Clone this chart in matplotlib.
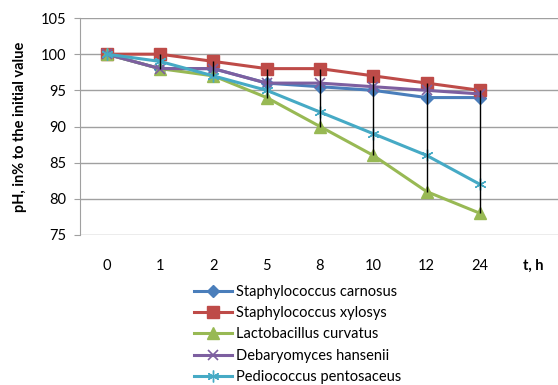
import numpy as np
import matplotlib
matplotlib.use("Agg")
import matplotlib.pyplot as plt

plt.rcParams['font.family'] = ['Lato', 'DejaVu Sans']

hours = ["0", "1", "2", "5", "8", "10", "12", "24"]
carnosus = [100, 98, 98, 96, 95.5, 95, 94, 94]
xylosus = [100, 100, 99, 98, 98, 97, 96, 95]
curvatus = [100, 98, 97, 94, 90, 86, 81, 78]
hansenii = [100, 98, 98, 96, 96, 95.5, 95, 94.5]
pentosaceus = [100, 99, 97, 95, 92, 89, 86, 82]

fig = plt.figure(figsize=(5.58, 3.85), dpi=100)
ax = fig.add_axes([80/558, 1-235/385, 480/558, 217/385])

x = np.arange(len(hours))
allv = np.array([carnosus, xylosus, curvatus, hansenii, pentosaceus])
# high-low lines
ax.vlines(x, allv.min(axis=0), allv.max(axis=0), color="black", lw=1, zorder=4)

ax.plot(x, carnosus, color="#4A7EBB", lw=2.2, marker="D", ms=6, label="Staphylococcus carnosus", zorder=3)
ax.plot(x, xylosus, color="#BE4B48", lw=2.2, marker="s", ms=8, label="Staphylococcus xylosys", zorder=3)
ax.plot(x, curvatus, color="#98B954", lw=2.2, marker="^", ms=8.5, label="Lactobacillus curvatus", zorder=3)
ax.plot(x, hansenii, color="#7D5FA0", lw=2.2, marker="x", ms=7.5, mew=1.2, label="Debaryomyces hansenii", zorder=3)
ax.plot(x, pentosaceus, color="#46AAC5", lw=2.2, marker=(6, 2, 0), ms=8.5, mew=1.0, label="Pediococcus pentosaceus", zorder=3)

ax.set_xlim(-0.5, 8.5)
ax.set_ylim(75, 105)
ax.set_yticks(np.arange(75, 106, 5))
ax.set_xticks(list(x) + [8])
ax.set_xticklabels(hours + ["t, h"])
ax.get_xticklabels()[-1].set_fontweight("bold")
ax.tick_params(axis="x", length=0, pad=17, labelsize=10.5)
ax.tick_params(axis="y", length=4, color="#A0A0A0", pad=6, labelsize=10.5)
ax.grid(axis="y", color="#A0A0A0", lw=1)
for s in ["top", "right", "bottom"]:
    ax.spines[s].set_visible(False)
ax.spines["left"].set_color("#A0A0A0")
ax.set_ylabel("pH, in% to the initial value", fontweight="bold", fontsize=10.5, labelpad=10)

fig.legend(loc="upper left", bbox_to_anchor=(188/558, 1-279/385), frameon=False,
           handlelength=2.6, handletextpad=0.3, labelspacing=0.5, fontsize=10.5, borderaxespad=0)

fig.savefig("out.png", dpi=100)
